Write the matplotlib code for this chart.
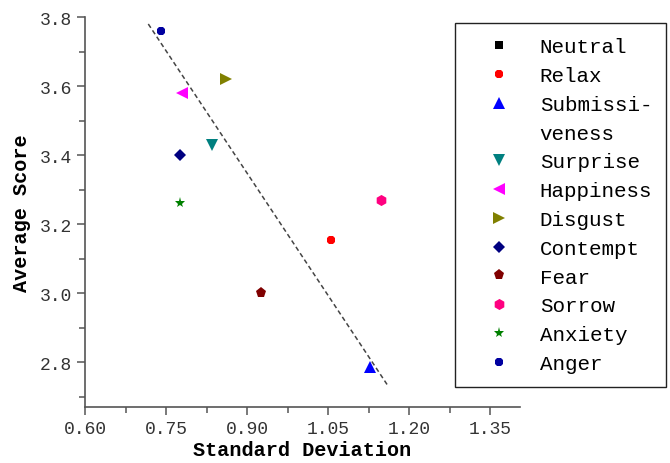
import matplotlib.pyplot as plt
from matplotlib.lines import Line2D
from matplotlib.ticker import MultipleLocator

# emotion categories and their (std dev, average score)
emotions = ["Neutral", "Relax", "Submissiveness", "Surprise", "Happiness", "Disgust",
            "Contempt", "Fear", "Sorrow", "Anxiety", "Anger"]
std_dev = [None, 1.055, 1.128, 0.835, 0.78, 0.86, 0.775, 0.925, 1.148, 0.775, 0.74]
avg_score = [None, 3.155, 2.785, 3.43, 3.58, 3.62, 3.40, 3.00, 3.27, 3.26, 3.76]
markers = ["s", "8", "^", "v", "<", ">", "D", "p", "h", "*", "8"]
colors = ["#000000", "#ff0000", "#0000ff", "#008080", "#ff00ff", "#808000",
          "#000080", "#800000", "#ff0080", "#008000", "#0000a0"]
sizes = [6, 6.5, 8, 8, 8, 8, 6, 8, 8, 8, 6]

# dashed trend line end points
fit_x = [0.717, 1.159]
fit_y = [3.78, 2.735]

mono = "Liberation Mono"

fig = plt.figure(figsize=(6.70, 4.64), dpi=100)
ax = fig.add_axes([0.127, 0.121, 0.649, 0.84])

handles = []
labels = []
for name, x, y, m, c, s in zip(emotions, std_dev, avg_score, markers, colors, sizes):
    xs = [] if x is None else [x]
    ys = [] if y is None else [y]
    h, = ax.plot(xs, ys, linestyle="none", marker=m, color=c, markersize=s,
                 markeredgewidth=0)
    if name == "Submissiveness":
        handles += [h, Line2D([], [], linestyle="none")]
        labels += ["Submissi-", "veness"]
    else:
        handles.append(h)
        labels.append(name)

ax.plot(fit_x, fit_y, linestyle=(0, (3, 2)), color="#444444", linewidth=1.1)

ax.set_xlim(0.60, 1.405)
ax.set_ylim(2.67, 3.80)
ax.xaxis.set_major_locator(MultipleLocator(0.15))
ax.xaxis.set_minor_locator(MultipleLocator(0.075))
ax.yaxis.set_major_locator(MultipleLocator(0.2))
ax.yaxis.set_minor_locator(MultipleLocator(0.1))
ax.xaxis.set_major_formatter(plt.FormatStrFormatter("%.2f"))
ax.yaxis.set_major_formatter(plt.FormatStrFormatter("%.1f"))

for side in ["top", "right"]:
    ax.spines[side].set_visible(False)
for side in ["left", "bottom"]:
    ax.spines[side].set_color("#555555")
    ax.spines[side].set_linewidth(1.2)

ax.tick_params(which="major", direction="out", length=6, width=1.1, color="#555555",
               labelsize=13, labelcolor="#333333")
ax.tick_params(which="minor", direction="out", length=4, width=1.1, color="#555555")
for lbl in ax.get_xticklabels() + ax.get_yticklabels():
    lbl.set_family(mono)

ax.set_xlabel("Standard Deviation", fontsize=14.5, fontweight="bold", family=mono,
              labelpad=2)
ax.set_ylabel("Average Score", fontsize=14.5, fontweight="bold", family=mono,
              labelpad=6)

leg = fig.legend(handles, labels, loc="upper left", bbox_to_anchor=(0.679, 0.948),
                 prop={"family": mono, "size": 15}, frameon=True, fancybox=False,
                 edgecolor="#222222", framealpha=1, handlelength=2.84,
                 handletextpad=0.55, labelspacing=0.47, borderpad=0.68,
                 borderaxespad=0, markerscale=1.0)
leg.get_frame().set_linewidth(1.0)

fig.savefig("out.png", dpi=100)
